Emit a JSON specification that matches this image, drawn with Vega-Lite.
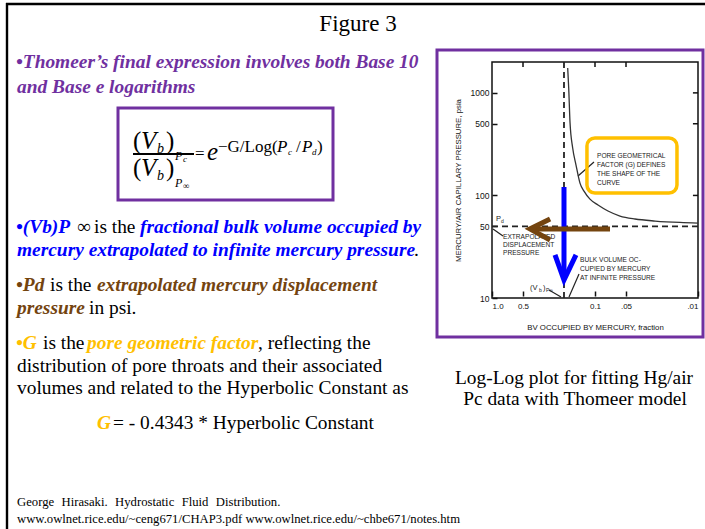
{
  "$schema": "https://vega.github.io/schema/vega-lite/v6.json",
  "width": 705,
  "height": 529,
  "padding": 0,
  "autosize": {"type": "fit", "contains": "padding"},
  "background": "white",
  "config": {"view": {"stroke": null}},
  "datasets": {
    "slideText": [
      {"t": "Figure 3", "x": 358, "y": 31, "kind": "title", "tone": "ink"},
      {"t": "•Thomeer’s final expression involves both Base 10", "x": 16, "y": 68, "kind": "emph", "tone": "purple"},
      {"t": "and Base e logarithms", "x": 17, "y": 93, "kind": "emph", "tone": "purple"},
      {"t": "•(Vb)P", "x": 16, "y": 233, "kind": "emph", "tone": "blue"},
      {"t": "∞", "x": 77, "y": 233, "kind": "plain", "tone": "ink"},
      {"t": "is the", "x": 94, "y": 233, "kind": "plain", "tone": "ink"},
      {"t": "fractional bulk volume occupied by", "x": 140, "y": 233, "kind": "emph", "tone": "blue"},
      {"t": "mercury extrapolated to infinite mercury pressure", "x": 17, "y": 256, "kind": "emph", "tone": "blue"},
      {"t": ".", "x": 414, "y": 256, "kind": "plain", "tone": "ink"},
      {"t": "•Pd", "x": 16, "y": 291, "kind": "emph", "tone": "brown"},
      {"t": "is the", "x": 50, "y": 291, "kind": "plain", "tone": "ink"},
      {"t": "extrapolated mercury displacement", "x": 97, "y": 291, "kind": "emph", "tone": "brown"},
      {"t": "pressure", "x": 17, "y": 314, "kind": "emph", "tone": "brown"},
      {"t": "in psi.", "x": 89, "y": 314, "kind": "plain", "tone": "ink"},
      {"t": "•G", "x": 16, "y": 349, "kind": "emph", "tone": "gold"},
      {"t": "is the", "x": 43, "y": 349, "kind": "plain", "tone": "ink"},
      {"t": "pore geometric factor", "x": 87, "y": 349, "kind": "emph", "tone": "gold"},
      {"t": ", reflecting the", "x": 258, "y": 349, "kind": "plain", "tone": "ink"},
      {"t": "distribution of pore throats and their associated", "x": 17, "y": 372, "kind": "plain", "tone": "ink"},
      {"t": "volumes and related to the Hyperbolic Constant as", "x": 17, "y": 394, "kind": "plain", "tone": "ink"},
      {"t": "G", "x": 97, "y": 429, "kind": "emph", "tone": "gold"},
      {"t": "= - 0.4343 * Hyperbolic Constant", "x": 113, "y": 429, "kind": "plain", "tone": "ink"},
      {"t": "Log-Log plot for fitting Hg/air", "x": 574, "y": 384, "kind": "caption", "tone": "ink"},
      {"t": "Pc data with Thomeer model", "x": 575, "y": 405, "kind": "caption", "tone": "ink"},
      {"t": "George\u2002\u200aHirasaki.\u2002\u200aHydrostatic\u2002\u200aFluid\u2002\u200aDistribution.", "x": 17, "y": 506, "kind": "cite", "tone": "ink"},
      {"t": "www.owlnet.rice.edu/~ceng671/CHAP3.pdf www.owlnet.rice.edu/~chbe671/notes.htm", "x": 17, "y": 523, "kind": "cite", "tone": "ink"}
    ],
    "formula": [
      {"t": "(", "x": 133, "y": 149, "italic": false, "lvl": 1},
      {"t": "V", "x": 141, "y": 149, "italic": true, "lvl": 1},
      {"t": "b", "x": 157, "y": 153, "italic": true, "lvl": 3},
      {"t": ")", "x": 166, "y": 149, "italic": false, "lvl": 1},
      {"t": "P", "x": 175, "y": 160, "italic": true, "lvl": 4},
      {"t": "c", "x": 183, "y": 162, "italic": true, "lvl": 5},
      {"t": "(", "x": 133, "y": 176, "italic": false, "lvl": 1},
      {"t": "V", "x": 141, "y": 176, "italic": true, "lvl": 1},
      {"t": "b", "x": 157, "y": 180, "italic": true, "lvl": 3},
      {"t": ")", "x": 166, "y": 176, "italic": false, "lvl": 1},
      {"t": "P", "x": 175, "y": 187, "italic": true, "lvl": 4},
      {"t": "∞", "x": 183, "y": 189, "italic": false, "lvl": 5},
      {"t": "=", "x": 195, "y": 159, "italic": false, "lvl": 2},
      {"t": "e", "x": 207, "y": 160, "italic": true, "lvl": 1},
      {"t": "−G/Log(", "x": 218, "y": 152, "italic": false, "lvl": 2},
      {"t": "P", "x": 277, "y": 152, "italic": true, "lvl": 2},
      {"t": "c", "x": 288, "y": 155, "italic": true, "lvl": 5},
      {"t": "/", "x": 296, "y": 152, "italic": false, "lvl": 2},
      {"t": "P", "x": 302, "y": 152, "italic": true, "lvl": 2},
      {"t": "d", "x": 312, "y": 155, "italic": true, "lvl": 5},
      {"t": ")", "x": 317, "y": 152, "italic": false, "lvl": 2}
    ],
    "notes": [
      {"t": "PORE GEOMETRICAL", "x": 597, "y": 156, "lvl": 6},
      {"t": "FACTOR (G) DEFINES", "x": 597, "y": 165, "lvl": 6},
      {"t": "THE SHAPE OF THE", "x": 597, "y": 174, "lvl": 6},
      {"t": "CURVE", "x": 597, "y": 183, "lvl": 6},
      {"t": "P", "x": 496, "y": 219, "lvl": 7},
      {"t": "d", "x": 501, "y": 221, "lvl": 8},
      {"t": "EXTRAPOLATED", "x": 503, "y": 237, "lvl": 6},
      {"t": "DISPLACEMENT", "x": 503, "y": 245, "lvl": 6},
      {"t": "PRESSURE", "x": 503, "y": 253, "lvl": 6},
      {"t": "BULK VOLUME OC-", "x": 580, "y": 260, "lvl": 6},
      {"t": "CUPIED BY MERCURY", "x": 580, "y": 269, "lvl": 6},
      {"t": "AT INFINITE PRESSURE", "x": 580, "y": 278, "lvl": 6},
      {"t": "(V", "x": 530, "y": 288, "lvl": 7},
      {"t": "b", "x": 539, "y": 290, "lvl": 8},
      {"t": ")", "x": 543, "y": 288, "lvl": 7},
      {"t": "P∞", "x": 546, "y": 290, "lvl": 8}
    ],
    "slideLines": [
      {"x": 6, "y": 4, "x2": 705, "y2": 4, "tone": "ink", "w": "frame"},
      {"x": 7, "y": 3, "x2": 7, "y2": 529, "tone": "ink", "w": "frame"},
      {"x": 133, "y": 154, "x2": 194, "y2": 154, "tone": "ink", "w": "bar"},
      {"x": 594, "y": 162, "x2": 578, "y2": 176, "tone": "note", "w": "pointer"},
      {"x": 503, "y": 236, "x2": 493, "y2": 229, "tone": "note", "w": "pointer"},
      {"x": 579, "y": 274, "x2": 569, "y2": 297, "tone": "note", "w": "pointer"},
      {"x": 549, "y": 290, "x2": 561, "y2": 297, "tone": "note", "w": "pointer"}
    ],
    "slideBoxes": [
      {"x": 118, "y": 108, "x2": 333, "y2": 200, "tone": "purple"},
      {"x": 437, "y": 50, "x2": 703, "y2": 337, "tone": "purple"}
    ],
    "frame": [{"bv": 1, "bv2": 0.01, "pc": 10, "pc2": 2000}],
    "edgeTicks": [
      {"bv": 0.5, "bv2": 0.5, "pc": 2000, "pc2": 1790},
      {"bv": 0.1, "bv2": 0.1, "pc": 2000, "pc2": 1790},
      {"bv": 0.05, "bv2": 0.05, "pc": 2000, "pc2": 1790},
      {"bv": 0.01, "bv2": 0.0112, "pc": 100, "pc2": 100},
      {"bv": 0.01, "bv2": 0.0112, "pc": 500, "pc2": 500},
      {"bv": 0.01, "bv2": 0.0112, "pc": 1000, "pc2": 1000}
    ],
    "curve": [
      {"bv": 0.1841, "pc": 1749},
      {"bv": 0.18, "pc": 1116},
      {"bv": 0.1749, "pc": 520},
      {"bv": 0.1647, "pc": 290},
      {"bv": 0.1529, "pc": 198},
      {"bv": 0.1399, "pc": 132},
      {"bv": 0.1279, "pc": 110},
      {"bv": 0.1119, "pc": 92},
      {"bv": 0.0935, "pc": 80.7},
      {"bv": 0.0748, "pc": 70.5},
      {"bv": 0.0572, "pc": 63},
      {"bv": 0.0409, "pc": 58.9},
      {"bv": 0.0261, "pc": 56.3},
      {"bv": 0.015, "pc": 54.5},
      {"bv": 0.01, "pc": 53.8}
    ],
    "guides": [
      {"bv": 0.2, "bv2": 0.2, "pc": 10, "pc2": 2000},
      {"bv": 1, "bv2": 0.01, "pc": 50, "pc2": 50}
    ],
    "arrows": [
      {"part": "blue shaft", "tone": "blue", "k": 1, "bv": 0.2, "pc": 120.8},
      {"part": "blue shaft", "tone": "blue", "k": 2, "bv": 0.2, "pc": 16},
      {"part": "blue head", "tone": "blue", "k": 1, "bv": 0.2445, "pc": 26.3},
      {"part": "blue head", "tone": "blue", "k": 2, "bv": 0.2, "pc": 15},
      {"part": "blue head", "tone": "blue", "k": 3, "bv": 0.153, "pc": 26.3},
      {"part": "brown shaft", "tone": "brown", "k": 1, "bv": 0.0715, "pc": 47.1},
      {"part": "brown shaft", "tone": "brown", "k": 2, "bv": 0.41, "pc": 47.1},
      {"part": "brown head", "tone": "brown", "k": 1, "bv": 0.273, "pc": 58.9},
      {"part": "brown head", "tone": "brown", "k": 2, "bv": 0.428, "pc": 47.1},
      {"part": "brown head", "tone": "brown", "k": 3, "bv": 0.273, "pc": 36.8}
    ],
    "callout": [{"bv": 0.1197, "bv2": 0.016, "pc": 363, "pc2": 105.6}]
  },
  "layer": [
    {
      "encoding": {
        "x": {"field": "x", "type": "quantitative", "axis": null, "scale": {"domain": [0, 705], "range": [0, 705], "nice": false, "zero": false}},
        "y": {"field": "y", "type": "quantitative", "axis": null, "scale": {"domain": [0, 529], "range": [0, 529], "nice": false, "zero": false}},
        "color": {"field": "tone", "type": "nominal", "legend": null, "scale": {"domain": ["ink", "purple", "blue", "brown", "gold", "note"], "range": ["#000000", "#7030A0", "#0000FF", "#74440F", "#FFC000", "#222222"]}}
      },
      "layer": [
        {
          "data": {"name": "slideBoxes"},
          "mark": {"type": "rect", "filled": false, "strokeWidth": 3},
          "encoding": {"x2": {"field": "x2"}, "y2": {"field": "y2"}}
        },
        {
          "data": {"name": "slideLines"},
          "mark": {"type": "rule", "strokeCap": "butt"},
          "encoding": {
            "x2": {"field": "x2"},
            "y2": {"field": "y2"},
            "strokeWidth": {"field": "w", "type": "nominal", "legend": null, "scale": {"domain": ["frame", "bar", "pointer"], "range": [2.4, 1.2, 0.9]}}
          }
        },
        {
          "data": {"name": "slideText"},
          "transform": [{"filter": "datum.kind == 'title'"}],
          "mark": {"type": "text", "font": "Liberation Serif", "fontSize": 23, "align": "center", "baseline": "alphabetic"},
          "encoding": {"text": {"field": "t"}}
        },
        {
          "data": {"name": "slideText"},
          "transform": [{"filter": "datum.kind == 'emph'"}],
          "mark": {"type": "text", "font": "Liberation Serif", "fontSize": 19.4, "fontStyle": "italic", "fontWeight": "bold", "align": "left", "baseline": "alphabetic"},
          "encoding": {"text": {"field": "t"}}
        },
        {
          "data": {"name": "slideText"},
          "transform": [{"filter": "datum.kind == 'plain'"}],
          "mark": {"type": "text", "font": "Liberation Serif", "fontSize": 19.4, "align": "left", "baseline": "alphabetic"},
          "encoding": {"text": {"field": "t"}}
        },
        {
          "data": {"name": "slideText"},
          "transform": [{"filter": "datum.kind == 'caption'"}],
          "mark": {"type": "text", "font": "Liberation Serif", "fontSize": 19.4, "align": "center", "baseline": "alphabetic"},
          "encoding": {"text": {"field": "t"}}
        },
        {
          "data": {"name": "slideText"},
          "transform": [{"filter": "datum.kind == 'cite'"}],
          "mark": {"type": "text", "font": "Liberation Serif", "fontSize": 12.7, "align": "left", "baseline": "alphabetic"},
          "encoding": {"text": {"field": "t"}}
        },
        {
          "data": {"name": "formula"},
          "transform": [{"filter": "!datum.italic"}],
          "mark": {"type": "text", "font": "Liberation Serif", "align": "left", "baseline": "alphabetic"},
          "encoding": {
            "color": {"value": "#000000"},
            "text": {"field": "t"},
            "size": {"field": "lvl", "type": "quantitative", "legend": null, "scale": {"type": "threshold", "domain": [1.5, 2.5, 3.5, 4.5, 5.5, 6.5, 7.5], "range": [25, 17, 14, 12, 9, 6.6, 7.5, 5]}}
          }
        },
        {
          "data": {"name": "formula"},
          "transform": [{"filter": "datum.italic"}],
          "mark": {"type": "text", "font": "Liberation Serif", "fontStyle": "italic", "align": "left", "baseline": "alphabetic"},
          "encoding": {
            "color": {"value": "#000000"},
            "text": {"field": "t"},
            "size": {"field": "lvl", "type": "quantitative", "legend": null, "scale": {"type": "threshold", "domain": [1.5, 2.5, 3.5, 4.5, 5.5, 6.5, 7.5], "range": [25, 17, 14, 12, 9, 6.6, 7.5, 5]}}
          }
        },
        {
          "data": {"name": "notes"},
          "mark": {"type": "text", "font": "Liberation Sans", "align": "left", "baseline": "middle"},
          "encoding": {
            "color": {"value": "#1a1a1a"},
            "text": {"field": "t"},
            "size": {"field": "lvl", "type": "quantitative", "legend": null, "scale": {"type": "threshold", "domain": [1.5, 2.5, 3.5, 4.5, 5.5, 6.5, 7.5], "range": [25, 17, 14, 12, 9, 6.6, 7.5, 5]}}
          }
        }
      ]
    },
    {
      "encoding": {
        "x": {
          "field": "bv", "type": "quantitative",
          "scale": {"type": "log", "domain": [1, 0.01], "range": [492, 698], "nice": false},
          "axis": {
            "orient": "bottom", "offset": -231, "values": [1, 0.5, 0.1, 0.05, 0.01],
            "labelExpr": "datum.value == 1 ? '1.0' : datum.value == 0.05 ? '.05' : datum.value == 0.01 ? '.01' : format(datum.value, '.1f')",
            "domain": false, "grid": false, "ticks": true, "tickSize": -5, "tickWidth": 1.5, "tickColor": "#111111",
            "labelFont": "Liberation Sans", "labelFontSize": 8, "labelColor": "#111111", "labelPadding": 11, "labelOverlap": false,
            "title": "BV OCCUPIED BY MERCURY, fraction", "titleFont": "Liberation Sans", "titleFontSize": 7.8, "titleFontWeight": "normal", "titleColor": "#111111", "titlePadding": 13
          }
        },
        "y": {
          "field": "pc", "type": "quantitative",
          "scale": {"type": "log", "domain": [10, 2000], "range": [298, 62], "nice": false},
          "axis": {
            "orient": "left", "offset": -492, "values": [10, 50, 100, 500, 1000],
            "labelExpr": "format(datum.value, 'd')",
            "domain": false, "grid": false, "ticks": true, "tickSize": -5, "tickWidth": 1.5, "tickColor": "#111111",
            "labelFont": "Liberation Sans", "labelFontSize": 8.5, "labelColor": "#111111", "labelPadding": 8, "labelOverlap": false,
            "title": "MERCURY/AIR CAPILLARY PRESSURE, psia", "titleFont": "Liberation Sans", "titleFontSize": 7.8, "titleFontWeight": "normal", "titleColor": "#111111", "titlePadding": 8
          }
        }
      },
      "layer": [
        {
          "data": {"name": "frame"},
          "mark": {"type": "rect", "filled": false, "stroke": "#111111", "strokeWidth": 1.5},
          "encoding": {"x2": {"field": "bv2"}, "y2": {"field": "pc2"}}
        },
        {
          "data": {"name": "edgeTicks"},
          "mark": {"type": "rule", "stroke": "#111111", "strokeWidth": 1.5},
          "encoding": {"x2": {"field": "bv2"}, "y2": {"field": "pc2"}}
        },
        {
          "data": {"name": "guides"},
          "mark": {"type": "rule", "stroke": "#222222", "strokeWidth": 1.8, "strokeDash": [6, 4]},
          "encoding": {"x2": {"field": "bv2"}, "y2": {"field": "pc2"}}
        },
        {
          "data": {"name": "curve"},
          "mark": {"type": "line", "stroke": "#333333", "strokeWidth": 1.3, "interpolate": "monotone"},
          "encoding": {}
        },
        {
          "data": {"name": "callout"},
          "mark": {"type": "rect", "filled": false, "stroke": "#FFC000", "strokeWidth": 3.5, "cornerRadius": 8},
          "encoding": {"x2": {"field": "bv2"}, "y2": {"field": "pc2"}}
        },
        {
          "data": {"name": "arrows"},
          "mark": {"type": "line", "strokeWidth": 5, "strokeCap": "butt", "strokeJoin": "miter"},
          "encoding": {
            "detail": {"field": "part"},
            "order": {"field": "k", "type": "quantitative"},
            "color": {"field": "tone", "type": "nominal", "legend": null, "scale": {"domain": ["blue", "brown"], "range": ["#0000FF", "#74440F"]}}
          }
        }
      ]
    }
  ],
  "resolve": {
    "scale": {"x": "independent", "y": "independent", "color": "independent", "size": "independent", "strokeWidth": "independent"},
    "axis": {"x": "independent", "y": "independent"}
  }
}
